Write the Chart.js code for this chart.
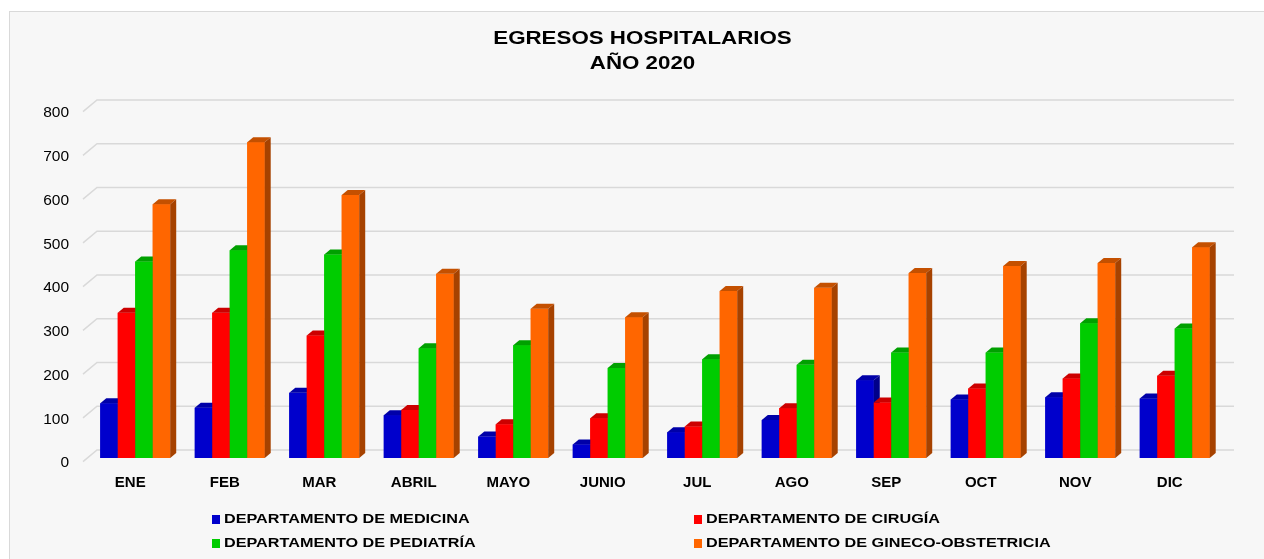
<!DOCTYPE html>
<html>
<head>
<meta charset="utf-8">
<script src="https://cdn.jsdelivr.net/npm/chart.js@4/dist/chart.umd.min.js"></script>
<style>
  body { margin: 0; background: #fff; overflow: hidden; font-family: 'Liberation Sans', Arial, sans-serif; }
  #marco { position: absolute; left: 9px; top: 11px; width: 1300px; height: 600px; border: 1px solid #d9d9d9; background: #f7f7f7; }
  #grafico { position: absolute; left: 10px; top: 12px; }
  #titulo { position: absolute; left: 0; top: 26px; width: 1285px; text-align: center; font-weight: bold; font-size: 18px; line-height: 25px; color: #000; transform: scaleX(1.24); transform-origin: 642.5px 0; }
  .ley { position: absolute; font-weight: bold; font-size: 13.5px; color: #000; white-space: nowrap; line-height: 16px; }
  .ley span.cuadro { display: inline-block; width: 8px; height: 9px; margin-right: 4px; vertical-align: -1px; }
  .ley span.txt { display: inline-block; transform: scaleX(1.2); transform-origin: 0 0; }
</style>
</head>
<body>
<div id="marco"></div>
<canvas id="grafico" width="1265" height="548"></canvas>
<div id="titulo"></div>
<div id="leyenda"></div>
<script>
// datos
const meses = ['ENE', 'FEB', 'MAR', 'ABRIL', 'MAYO', 'JUNIO', 'JUL', 'AGO', 'SEP', 'OCT', 'NOV', 'DIC'];
const medicina = [125, 115, 149, 98, 49, 31, 59, 87, 178, 134, 139, 136];
const cirugia = [332, 332, 280, 110, 77, 91, 72, 114, 127, 159, 182, 188];
const pediatria = [449, 475, 465, 251, 258, 206, 226, 213, 241, 241, 308, 296];
const gineco = [580, 722, 601, 421, 341, 322, 382, 389, 423, 439, 446, 482];
const yMax = 800;
const yPaso = 100;

const titulo = ['EGRESOS HOSPITALARIOS', 'AÑO 2020'];
const nombres = ['DEPARTAMENTO DE MEDICINA', 'DEPARTAMENTO DE CIRUGÍA', 'DEPARTAMENTO DE PEDIATRÍA', 'DEPARTAMENTO DE GINECO-OBSTETRICIA'];
const colores = ['#0000cc', '#ff0000', '#00cc00', '#ff6600'];
const coloresTop = ['#0000a8', '#cc0000', '#00a000', '#c45000'];
const coloresLado = ['#00008a', '#a80000', '#008000', '#a64200'];
const fuente = "'Liberation Sans', Arial, sans-serif";

// fondo con lineas de cuadricula "3D"
const cuadricula = {
  id: 'cuadricula',
  beforeDatasetsDraw(chart) {
    const ctx = chart.ctx;
    const y = chart.scales.y;
    const a = chart.chartArea;
    ctx.save();
    ctx.strokeStyle = '#d9d9d9';
    ctx.lineWidth = 1.5;
    for (let v = 0; v <= yMax; v += yPaso) {
      const py = y.getPixelForValue(v);
      ctx.beginPath();
      ctx.moveTo(a.left - 5, py + 3.7);
      ctx.lineTo(a.left + 9, py - 8);
      ctx.lineTo(a.right + 12, py - 8);
      ctx.stroke();
    }
    ctx.restore();
  }
};

// caras superior y lateral de cada barra
const barras3d = {
  id: 'barras3d',
  afterDatasetsDraw(chart) {
    const ctx = chart.ctx;
    const dx = 6, dy = 5;
    const n = chart.data.labels.length;
    ctx.save();
    for (let j = 0; j < n; j++) {
      for (let i = 0; i < chart.data.datasets.length; i++) {
        const el = chart.getDatasetMeta(i).data[j];
        const p = el.getProps(['x', 'y', 'base', 'width'], true);
        const l = p.x - p.width / 2, r = p.x + p.width / 2;
        ctx.fillStyle = colores[i];
        ctx.fillRect(l, p.y, p.width, p.base - p.y);
        ctx.fillStyle = coloresTop[i];
        ctx.beginPath();
        ctx.moveTo(l, p.y);
        ctx.lineTo(l + dx, p.y - dy);
        ctx.lineTo(r + dx, p.y - dy);
        ctx.lineTo(r, p.y);
        ctx.closePath();
        ctx.fill();
        ctx.fillStyle = coloresLado[i];
        ctx.beginPath();
        ctx.moveTo(r, p.y);
        ctx.lineTo(r + dx, p.y - dy);
        ctx.lineTo(r + dx, p.base - dy);
        ctx.lineTo(r, p.base);
        ctx.closePath();
        ctx.fill();
      }
    }
    ctx.restore();
  }
};

const series = [medicina, cirugia, pediatria, gineco];

const config = {
  type: 'bar',
  data: {
    labels: meses,
    datasets: series.map((d, i) => ({
      label: nombres[i],
      data: d,
      backgroundColor: colores[i],
      borderWidth: 0,
      barPercentage: 1,
      categoryPercentage: 0.74
    }))
  },
  options: {
    responsive: false,
    animation: false,
    devicePixelRatio: 1,
    layout: { padding: { left: 0, right: 0, top: 96, bottom: 62 } },
    plugins: {
      legend: { display: false },
      tooltip: { enabled: false },
      title: { display: false }
    },
    scales: {
      x: {
        grid: { display: false },
        border: { display: false },
        ticks: { color: '#000', font: { family: fuente, size: 15, weight: 'bold' }, padding: 8, labelOffset: -5, maxRotation: 0 },
        afterFit: s => { s.height = 40; }
      },
      y: {
        min: 0,
        max: yMax,
        grid: { display: false },
        border: { display: false },
        ticks: { stepSize: yPaso, color: '#000', font: { family: fuente, size: 15.5 }, padding: 11, labelOffset: 5 },
        afterFit: s => { s.width = 78; }
      },
      y2: {
        type: 'linear',
        position: 'right',
        grid: { display: false },
        border: { display: false },
        ticks: { display: false },
        afterFit: s => { s.width = 53; }
      }
    }
  },
  plugins: [cuadricula, barras3d]
};

new Chart(document.getElementById('grafico'), config);

document.getElementById('titulo').innerHTML = titulo.join('<br>');

// leyenda en dos columnas
const leyenda = document.getElementById('leyenda');
const posLeyenda = [[212, 511], [694, 511], [212, 535], [694, 535]];
nombres.forEach((nombre, i) => {
  const d = document.createElement('div');
  d.className = 'ley';
  d.style.left = posLeyenda[i][0] + 'px';
  d.style.top = posLeyenda[i][1] + 'px';
  d.innerHTML = '<span class="cuadro" style="background:' + colores[i] + '"></span><span class="txt">' + nombre + '</span>';
  leyenda.appendChild(d);
});
</script>
</body>
</html>
